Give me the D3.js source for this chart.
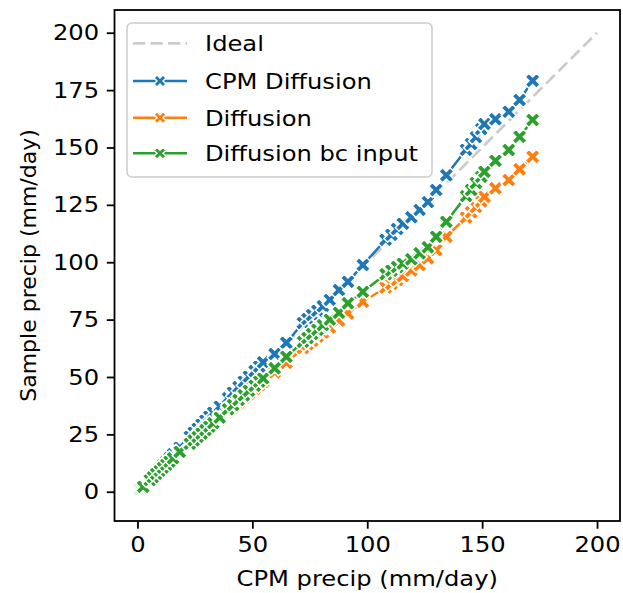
<!DOCTYPE html>
<html>
<head>
<meta charset="utf-8">
<script src="https://cdn.jsdelivr.net/npm/d3@7"></script>
<style>
  html, body { margin: 0; padding: 0; background: #fff; }
  svg { display: block; }
  text { font-family: "DejaVu Sans", sans-serif; fill: #000; }
</style>
</head>
<body>
<svg id="chart" width="623" height="593"></svg>
<script>
// ---------------- data ----------------
const cpmPrecip = [
  0.0, 0.1, 0.2, 0.4, 0.7, 1.0, 1.4, 1.9, 2.5,
  5.4, 6.8, 8.2, 9.7, 11.1, 12.6, 14.0, 15.5, 18.4,
  22.8, 24.5, 26.2, 27.9, 29.6, 31.3, 33.0, 35.8, 39.4,
  41.6, 44.0, 46.3, 48.5, 51.0, 53.0, 54.7, 59.7, 64.8,
  72.0, 74.0, 76.0, 78.3, 80.7, 83.7, 87.7, 91.6, 98.1,
  108.0, 110.5, 113.0, 115.5, 119.2, 122.8, 126.4, 130.0, 134.4,
  143.0, 145.2, 147.3, 149.6, 151.0, 155.8, 161.6, 166.3, 172.0
];
const cpmDiffusion = [
  0.0, 0.1, 0.2, 0.4, 0.7, 1.0, 1.5, 2.0, 2.7,
  5.8, 7.2, 8.7, 10.2, 11.7, 13.2, 14.7, 16.3, 19.3,
  24.0, 25.8, 27.5, 29.3, 31.0, 32.8, 34.5, 37.2, 40.8,
  43.2, 45.6, 48.0, 50.2, 52.6, 54.6, 56.4, 60.0, 64.9,
  73.5, 75.3, 77.0, 78.9, 80.8, 83.6, 87.9, 91.5, 98.8,
  109.8, 112.0, 114.5, 116.8, 119.6, 122.8, 126.2, 131.5, 137.9,
  149.0, 151.5, 154.5, 158.0, 160.2, 162.3, 165.6, 170.7, 179.1
];
const diffusion = [
  0.0, 0.1, 0.2, 0.4, 0.6, 0.9, 1.3, 1.7, 2.2,
  5.0, 6.3, 7.6, 9.0, 10.3, 11.6, 12.9, 14.3, 16.9,
  20.6, 22.1, 23.6, 25.1, 26.6, 28.0, 29.5, 31.8, 35.0,
  36.8, 38.9, 40.8, 42.7, 44.8, 46.5, 47.9, 52.0, 56.2,
  62.6, 64.2, 65.8, 67.6, 69.4, 71.6, 74.6, 77.7, 82.8,
  89.0, 90.6, 92.2, 94.0, 96.4, 98.8, 101.7, 105.3, 111.1,
  119.5, 121.8, 124.0, 126.5, 128.5, 132.2, 135.8, 140.5, 146.0
];
const diffusionBcInput = [
  0.0, 0.1, 0.2, 0.4, 0.7, 0.9, 1.3, 1.8, 2.2,
  5.1, 6.4, 7.8, 9.2, 10.5, 11.9, 13.2, 14.6, 17.4,
  20.9, 22.4, 23.9, 25.4, 26.9, 28.4, 29.9, 32.3, 35.9,
  37.8, 40.0, 42.0, 44.0, 46.2, 48.0, 49.4, 53.8, 58.8,
  65.3, 67.0, 68.7, 70.6, 72.6, 75.0, 78.0, 82.1, 87.1,
  94.8, 96.4, 97.9, 99.4, 101.3, 103.9, 106.5, 111.1, 117.6,
  128.8, 131.5, 134.5, 137.2, 139.4, 144.2, 148.9, 154.7, 162.0
];
const idealLine = [0, 200];
const seriesNames = ["CPM Diffusion", "Diffusion", "Diffusion bc input"];
const seriesColors = ["#1f77b4", "#ff7f0e", "#2ca02c"];
const xTicks = [0, 50, 100, 150, 200];
const yTicks = [0, 25, 50, 75, 100, 125, 150, 175, 200];
const xLabel = "CPM precip (mm/day)";
const yLabel = "Sample precip (mm/day)";
const idealLabel = "Ideal";

// ---------------- layout ----------------
const W = 623, H = 593;
const L = 114.5, R = 620, T = 10, B = 521;
const FS = 22;
const SX = 1.1;            // horizontal stretch of the glyphs
const tickLen = 7.7, tickPad = 7.7;
const lineW = 2.5;
const markerSize = 15;

const svg = d3.select("#chart");
const x = d3.scaleLinear().domain([-10, 210]).range([L, R]);
const y = d3.scaleLinear().domain([-12.75, 209.9]).range([B, T]);

// matplotlib-style filled "X" marker
function xMarkerPath(s) {
  const k = s / 4;
  const pts = [[-1,-2],[0,-1],[1,-2],[2,-1],[1,0],[2,1],[1,2],[0,1],[-1,2],[-2,1],[-1,0],[-2,-1]];
  return "M" + pts.map(p => (p[0]*k).toFixed(3) + "," + (p[1]*k).toFixed(3)).join("L") + "Z";
}

// axes
const xAxis = svg.append("g").attr("transform", `translate(0,${B})`)
  .call(d3.axisBottom(x).tickValues(xTicks).tickSize(tickLen).tickPadding(tickPad).tickFormat(d3.format("d")));
const yAxis = svg.append("g").attr("transform", `translate(${L},0)`)
  .call(d3.axisLeft(y).tickValues(yTicks).tickSize(tickLen).tickPadding(tickPad).tickFormat(d3.format("d")));
[xAxis, yAxis].forEach(g => {
  g.select(".domain").remove();
  g.selectAll(".tick line").attr("stroke", "#000").attr("stroke-width", 1.8);
  g.selectAll(".tick text").style("font-family", "DejaVu Sans").style("font-size", FS + "px").attr("fill", "#000");
});
yAxis.selectAll(".tick text").attr("x", -(tickLen + tickPad) / SX).attr("transform", `scale(${SX},1)`);
xAxis.selectAll(".tick text").attr("transform", `scale(${SX},1)`);

// clip
svg.append("clipPath").attr("id", "clip").append("rect")
  .attr("x", L).attr("y", T).attr("width", R - L).attr("height", B - T);
const plot = svg.append("g").attr("clip-path", "url(#clip)");

// ideal line
plot.append("line")
  .attr("x1", x(idealLine[0])).attr("y1", y(idealLine[0]))
  .attr("x2", x(idealLine[1])).attr("y2", y(idealLine[1]))
  .attr("stroke", "#cccccc").attr("stroke-width", 2.8)
  .attr("stroke-dasharray", "12.2,5.3");

const seriesData = [cpmDiffusion, diffusion, diffusionBcInput];
const line = d3.line().x(d => x(d[0])).y(d => y(d[1]));
seriesData.forEach((vals, i) => {
  const pts = cpmPrecip.map((c, j) => [c, vals[j]]);
  const g = plot.append("g");
  g.append("path").datum(pts).attr("d", line)
    .attr("fill", "none").attr("stroke", seriesColors[i]).attr("stroke-width", lineW)
    .attr("stroke-linejoin", "round").attr("stroke-linecap", "square");
  g.selectAll("path.m").data(pts).enter().append("path").attr("class", "m")
    .attr("d", xMarkerPath(markerSize))
    .attr("transform", d => `translate(${x(d[0])},${y(d[1])})`)
    .attr("fill", seriesColors[i]).attr("stroke", "#fff").attr("stroke-width", 1.5);
});

// frame
svg.append("rect").attr("x", L).attr("y", T).attr("width", R - L).attr("height", B - T)
  .attr("fill", "none").attr("stroke", "#000").attr("stroke-width", 1.8);

// text helper with horizontal stretch
function stretchedText(parent, tx, ty, str, anchor) {
  return parent.append("text")
    .attr("transform", `translate(${tx},${ty}) scale(${SX},1)`)
    .attr("text-anchor", anchor || "start")
    .style("font-size", FS + "px").text(str);
}

// axis labels
stretchedText(svg, (L + R) / 2, 586, xLabel, "middle");
svg.append("text").attr("transform", `translate(36,${(T + B) / 2}) rotate(-90)`).attr("text-anchor", "middle")
  .style("font-size", FS + "px").text(yLabel);

// legend
const lg = svg.append("g");
lg.append("rect").attr("x", 127).attr("y", 23).attr("width", 305).attr("height", 154).attr("rx", 5)
  .attr("fill", "#fff").attr("fill-opacity", 0.8).attr("stroke", "#cccccc").attr("stroke-width", 1.5);
const rows = [43.3, 81, 117.7, 153.3];
const hx0 = 133, hx1 = 187, tx = 205;
lg.append("line").attr("x1", hx0).attr("x2", hx1).attr("y1", rows[0]).attr("y2", rows[0])
  .attr("stroke", "#cccccc").attr("stroke-width", 2.8).attr("stroke-dasharray", "12.2,5.3");
stretchedText(lg, tx, rows[0] + 0.36 * FS, idealLabel);
seriesNames.forEach((name, i) => {
  const yy = rows[i + 1];
  lg.append("line").attr("x1", hx0).attr("x2", hx1).attr("y1", yy).attr("y2", yy)
    .attr("stroke", seriesColors[i]).attr("stroke-width", lineW);
  lg.append("path").attr("d", xMarkerPath(12)).attr("transform", `translate(${(hx0 + hx1) / 2},${yy})`)
    .attr("fill", seriesColors[i]).attr("stroke", "#fff").attr("stroke-width", 1.4);
  stretchedText(lg, tx, yy + 0.36 * FS, name);
});
</script>
</body>
</html>
